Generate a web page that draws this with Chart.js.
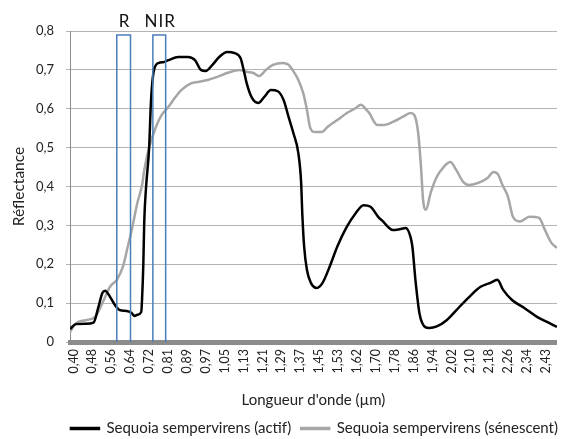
<!DOCTYPE html>
<html lang="fr">
<head>
<meta charset="UTF-8">
<title>Réflectance - Sequoia sempervirens</title>
<script src="https://cdn.jsdelivr.net/npm/chart.js@4.4.1/dist/chart.umd.min.js"></script>
<style>
    html, body { margin: 0; padding: 0; background: #fff; }
    #wrap { width: 568px; height: 439px; position: relative; }
</style>
</head>
<body>
<div id="wrap"><canvas id="chart"></canvas></div>
<script>
// wavelengths (µm) and reflectance
const actifWl = [0.385, 0.410, 0.452, 0.486, 0.507, 0.524, 0.536, 0.557, 0.578, 0.599, 0.628, 0.649, 0.662, 0.674, 0.691, 0.695, 0.700, 0.704, 0.712, 0.725, 0.733, 0.746, 0.767, 0.788, 0.808, 0.850, 0.892, 0.922, 0.947, 0.968, 0.997, 1.026, 1.060, 1.093, 1.118, 1.131, 1.144, 1.165, 1.194, 1.219, 1.248, 1.278, 1.303, 1.324, 1.345, 1.366, 1.378, 1.383, 1.391, 1.403, 1.420, 1.445, 1.470, 1.500, 1.533, 1.571, 1.613, 1.646, 1.676, 1.709, 1.730, 1.751, 1.772, 1.801, 1.827, 1.848, 1.856, 1.869, 1.886, 1.898, 1.928, 1.961, 2.003, 2.045, 2.095, 2.149, 2.191, 2.221, 2.246, 2.284, 2.338, 2.393, 2.443, 2.477];
const actifVal = [0.033, 0.046, 0.047, 0.050, 0.090, 0.126, 0.132, 0.116, 0.095, 0.082, 0.080, 0.075, 0.067, 0.070, 0.077, 0.116, 0.200, 0.310, 0.400, 0.500, 0.620, 0.700, 0.718, 0.720, 0.725, 0.733, 0.733, 0.725, 0.700, 0.697, 0.713, 0.733, 0.746, 0.743, 0.730, 0.700, 0.666, 0.630, 0.615, 0.630, 0.648, 0.645, 0.622, 0.579, 0.537, 0.486, 0.410, 0.330, 0.245, 0.185, 0.152, 0.139, 0.152, 0.193, 0.245, 0.293, 0.332, 0.352, 0.348, 0.322, 0.310, 0.296, 0.288, 0.290, 0.293, 0.270, 0.245, 0.160, 0.075, 0.049, 0.036, 0.040, 0.056, 0.082, 0.113, 0.142, 0.152, 0.160, 0.134, 0.108, 0.087, 0.064, 0.049, 0.039];

const senesWl = [0.385, 0.410, 0.452, 0.494, 0.515, 0.536, 0.557, 0.586, 0.612, 0.633, 0.653, 0.674, 0.695, 0.704, 0.725, 0.754, 0.779, 0.808, 0.838, 0.863, 0.905, 0.934, 0.976, 1.018, 1.060, 1.114, 1.144, 1.173, 1.198, 1.227, 1.257, 1.299, 1.324, 1.341, 1.366, 1.387, 1.403, 1.416, 1.437, 1.466, 1.491, 1.533, 1.575, 1.613, 1.634, 1.659, 1.675, 1.688, 1.705, 1.731, 1.772, 1.814, 1.848, 1.864, 1.881, 1.893, 1.902, 1.914, 1.935, 1.961, 1.990, 2.019, 2.045, 2.074, 2.099, 2.137, 2.179, 2.204, 2.225, 2.242, 2.267, 2.288, 2.317, 2.359, 2.401, 2.422, 2.451, 2.477];
const senesVal = [0.026, 0.048, 0.056, 0.065, 0.088, 0.116, 0.142, 0.160, 0.193, 0.245, 0.296, 0.357, 0.405, 0.442, 0.500, 0.553, 0.584, 0.605, 0.630, 0.648, 0.665, 0.669, 0.674, 0.682, 0.692, 0.700, 0.695, 0.692, 0.684, 0.700, 0.713, 0.718, 0.713, 0.700, 0.674, 0.640, 0.597, 0.553, 0.540, 0.540, 0.553, 0.571, 0.589, 0.602, 0.610, 0.597, 0.585, 0.570, 0.558, 0.558, 0.566, 0.579, 0.589, 0.584, 0.537, 0.450, 0.365, 0.340, 0.385, 0.425, 0.450, 0.463, 0.442, 0.412, 0.404, 0.409, 0.422, 0.437, 0.430, 0.405, 0.373, 0.322, 0.310, 0.322, 0.319, 0.293, 0.257, 0.242];

const seriesNames = ['Sequoia sempervirens (actif)', 'Sequoia sempervirens (sénescent)'];

const xTickLabels = ['0,40', '0,48', '0,56', '0,64', '0,72', '0,81', '0,89', '0,97', '1,05', '1,13', '1,21', '1,29', '1,37', '1,45', '1,53', '1,62', '1,70', '1,78', '1,86', '1,94', '2,02', '2,10', '2,18', '2,26', '2,34', '2,43'];
const yTickLabels = ['0', '0,1', '0,2', '0,3', '0,4', '0,5', '0,6', '0,7', '0,8'];

// R and NIR bands (µm) with box top (reflectance)
const bandNames = ['R', 'NIR'];
const bandStart = [0.586, 0.741];
const bandEnd = [0.645, 0.796];
const bandTop = 0.79;

const FONT = 'Lato, "Open Sans", sans-serif';

function toPoints(xs, ys) {
    return xs.map((x, i) => ({ x: x, y: ys[i] }));
}

const bandBoxes = {
    id: 'bandBoxes',
    afterDatasetsDraw(chart) {
        const { ctx, scales: { x, y } } = chart;
        ctx.save();
        ctx.strokeStyle = '#4a7ebb';
        ctx.lineWidth = 1.5;
        ctx.fillStyle = '#111';
        ctx.font = '17px ' + FONT;
        ctx.textAlign = 'center';
        ctx.textBaseline = 'middle';
        ctx.letterSpacing = '1px';
        bandNames.forEach((name, i) => {
            const x0 = x.getPixelForValue(bandStart[i]);
            const x1 = x.getPixelForValue(bandEnd[i]);
            const yt = y.getPixelForValue(bandTop);
            const yb = y.getPixelForValue(0);
            ctx.beginPath();
            ctx.moveTo(x0, yb);
            ctx.lineTo(x0, yt);
            ctx.lineTo(x1, yt);
            ctx.lineTo(x1, yb);
            ctx.stroke();
            ctx.fillText(name, (x0 + x1) / 2 + 1, yt - 13);
        });
        ctx.restore();
    }
};

const xStep = (2.43 - 0.40) / (xTickLabels.length - 1);

new Chart(document.getElementById('chart'), {
    type: 'line',
    data: {
        datasets: [
            {
                label: seriesNames[0],
                data: toPoints(actifWl, actifVal),
                borderColor: '#000000',
                backgroundColor: '#000000',
                borderWidth: 2.5,
                pointRadius: 0,
                cubicInterpolationMode: 'monotone'
            },
            {
                label: seriesNames[1],
                data: toPoints(senesWl, senesVal),
                borderColor: '#a6a6a6',
                backgroundColor: '#a6a6a6',
                borderWidth: 2.5,
                pointRadius: 0,
                cubicInterpolationMode: 'monotone'
            }
        ]
    },
    options: {
        responsive: true,
        maintainAspectRatio: false,
        animation: false,
        layout: { padding: { top: 31, right: 0, bottom: -7, left: 0 } },
        scales: {
            x: {
                type: 'linear',
                min: 0.385,
                max: 2.477,
                afterBuildTicks: s => {
                    s.ticks = xTickLabels.map((l, i) => ({ value: 0.40 + i * xStep }));
                },
                afterFit: s => { s.height = 69; },
                grid: { display: false, drawTicks: false },
                border: { display: true, color: '#8c8c8c', width: 5 },
                ticks: {
                    autoSkip: false,
                    maxRotation: 90,
                    minRotation: 90,
                    padding: 7,
                    color: '#222',
                    font: { family: FONT, size: 12.5 },
                    callback: (v, i) => xTickLabels[i]
                },
                title: {
                    display: true,
                    text: "Longueur d'onde (µm)",
                    color: '#222',
                    font: { family: FONT, size: 15 },
                    padding: { top: 0, bottom: 2 }
                }
            },
            y: {
                min: 0,
                max: 0.8,
                afterBuildTicks: s => {
                    s.ticks = yTickLabels.map((l, i) => ({ value: i / 10 }));
                },
                afterFit: s => { s.width = 70; },
                grid: { color: '#b3b3b3', lineWidth: 1, tickLength: 4 },
                border: { display: true, color: '#8c8c8c', width: 1 },
                ticks: {
                    padding: 12,
                    color: '#222',
                    font: { family: FONT, size: 13 },
                    callback: (v, i) => yTickLabels[i]
                },
                title: {
                    display: true,
                    text: 'Réflectance',
                    color: '#222',
                    font: { family: FONT, size: 15.5 },
                    padding: { top: 10, bottom: 0 }
                }
            }
        },
        plugins: {
            legend: {
                position: 'bottom',
                align: 'end',
                labels: {
                    boxWidth: 28,
                    boxHeight: 1,
                    padding: 10,
                    color: '#222',
                    font: { family: FONT, size: 15 }
                }
            },
            tooltip: { enabled: false }
        }
    },
    plugins: [bandBoxes]
});
</script>
</body>
</html>
